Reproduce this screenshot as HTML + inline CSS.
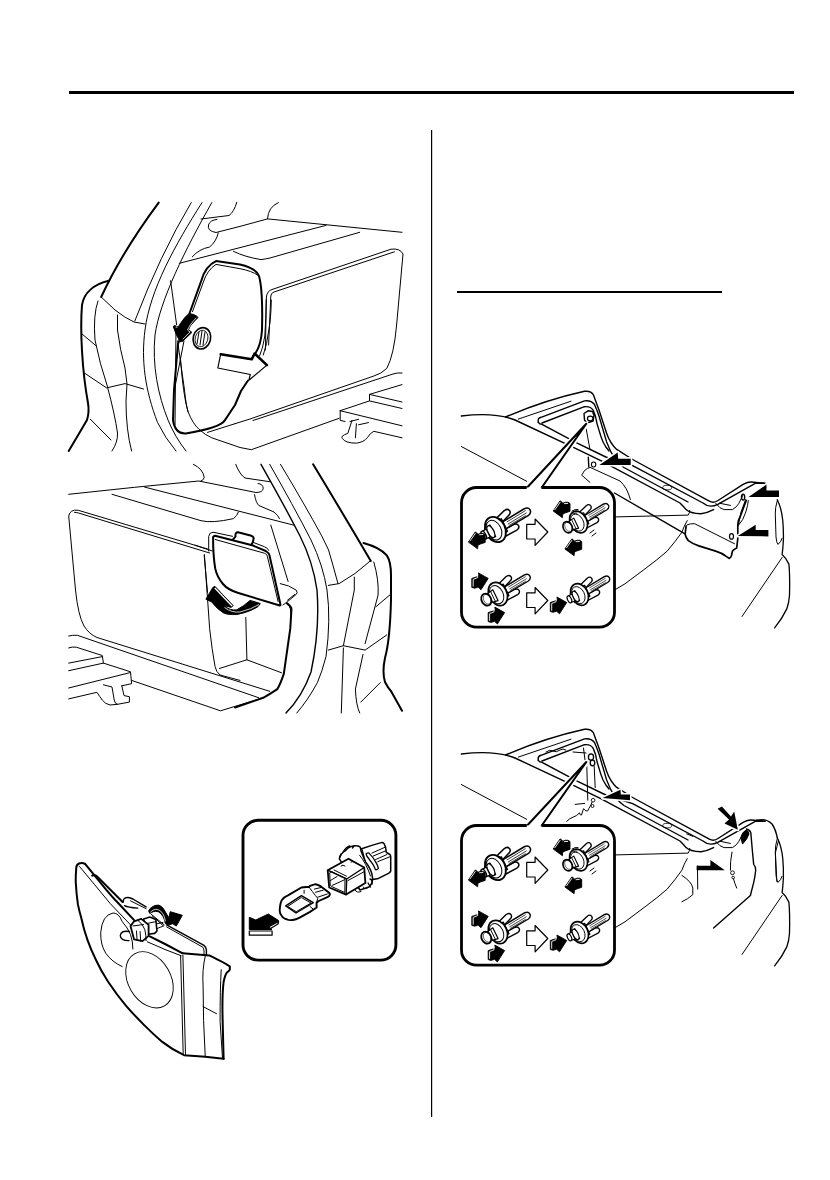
<!DOCTYPE html>
<html><head><meta charset="utf-8">
<style>
html,body{margin:0;padding:0;background:#fff;}
body{width:830px;height:1180px;overflow:hidden;position:relative;font-family:"Liberation Sans",sans-serif;}
svg{position:absolute;left:0;top:0;}
.t{fill:none;stroke:#000;stroke-width:1;stroke-linejoin:round;stroke-linecap:round;}
.m{fill:none;stroke:#000;stroke-width:1.4;stroke-linejoin:round;stroke-linecap:round;}
.k{fill:none;stroke:#000;stroke-width:2;stroke-linejoin:round;stroke-linecap:round;}
.f{fill:#000;stroke:#000;stroke-width:1;stroke-linejoin:round;}
.fh{fill:#000;stroke:#fff;stroke-width:3.2;stroke-linejoin:round;paint-order:stroke;}
.w{fill:#fff;stroke:#000;stroke-width:1.2;stroke-linejoin:round;}
</style></head>
<body>
<svg width="830" height="1180" viewBox="0 0 830 1180">
<!-- page rules -->
<rect x="69" y="91" width="725" height="3" fill="#000"/>
<rect x="431" y="130" width="1.2" height="987" fill="#000"/>
<rect x="457" y="291" width="265" height="2" fill="#000"/>

<!-- ===== Illustration 1 ===== -->
<g id="il1">
<!-- pillar -->
<path class="k" d="M158.7,202.6 Q122,252 101.2,297"/>
<path class="t" d="M101.2,297 L115,310 Q125,318 134,322 L145,324"/>
<path class="t" d="M191.2,202.6 Q160,255 134.8,321"/>
<path class="t" d="M202,202.6 C175,245 150,290 145,330 C141,360 145,390 157.6,422.6 Q165,438 176,451"/>
<path class="t" d="M211.8,202.6 C185,250 160,300 155,335 C152,365 158,395 168,420 Q175,437 186,451"/>
<!-- fender -->
<path class="k" d="M108.8,280.7 C95,284 84,292 82,305 C80,330 82,370 88,403 Q89.5,412 87,420 Q80,432 68.7,451"/>
<path class="t" d="M81.7,333.7 L95.8,345.6"/>
<path class="t" d="M98,301 Q93,315 95,340 Q100,365 107,385 Q115,415 117.5,433 Q118,442 112,451"/>
<path class="t" d="M117.5,315 L117.5,330 Q120,350 125,368 L127,384 L126,401 Q126,430 131.6,451"/>
<path class="t" d="M83.9,372.7 L106.6,387.9 L125,383.6 L143.5,389"/>
<path class="t" d="M90.4,419.3 L111,440"/>
<!-- cargo shelf -->
<path class="t" d="M179.3,263.3 L326,225.4"/>
<path class="t" d="M201,219 L229,215.5 Q234,212 236.8,202.3"/>
<path class="t" d="M402,232.3 L267.5,218.9 L240,226.4 L216,232.5 Q207,231 208.5,225 Q210,220 217,219.4"/>
<path class="t" d="M218.3,233 Q216,242 209.6,247 Q199,249 192.3,256.8"/>
<path class="t" d="M278.4,202.6 Q268,207 267.5,218.9"/>
<path class="t" d="M233.5,251.4 Q245,257 261,259.6 Q266,259 270,258 L359.7,232.3"/>
<!-- cover -->
<path class="k" d="M178,344 L190,312 L201,281.7 Q205,266 216,261.1 L240,264.4 Q256,268 259,276 Q263,290 262,330 Q261,345 255.6,353"/>
<path class="k" d="M248,380.5 L241,391 L235,405 L224.8,420.4 Q220,428 185.8,433.4 Q175,434 173,420 L174,390 L178,344"/>
<path class="t" d="M192.5,311.6 L203,283 Q207,270 216,264.4 L240,268.7 Q252,271 257.8,275.2"/>
<path class="t" d="M266.2,300 Q266,320 264.8,336 Q263,348 259.7,355.7"/>
<path class="t" d="M271.3,300 Q271,318 269,329 Q267,345 263.3,355"/>
<path class="t" d="M170.6,280.7 L176.6,324.6"/>
<path class="t" d="M176,330 L175,425"/>
<path class="t" d="M177.6,341 L184.5,390 Q186,405 188,411.7"/>
<path class="t" d="M184,341 L174.4,390"/>
<!-- panel -->
<path class="t" d="M265.4,350 L266.4,297 Q267,291 272,289.5 L391,249.2 Q400,248 403,254 L396.6,325 Q394,355 386.8,368.4 Q381,374 373.8,376 L250,419 L235,423.7"/>
<path class="t" d="M268.6,345 L270.8,296 Q271,293 274,292 L394.4,251.8"/>
<path class="t" d="M207.5,432.4 L235,423.7"/>
<path class="t" d="M402,373 Q397,372.5 393,374 L253,420.5"/>
<path class="t" d="M180.4,357.5 Q183,395 188,411.7 Q193,424 198.8,429 Q205,435 211.8,437.8 L240,447.5 L251.3,449.7 L339.1,418.3"/>
<!-- tie down -->
<path class="t" d="M340.2,410.7 L369.5,400.9 L369.5,394.4 L402,384.6"/>
<path class="t" d="M340.2,410.7 L402,425.8"/>
<path class="t" d="M369.5,394.4 L402,402"/>
<path class="t" d="M369.5,400.9 L402,408.5"/>
<path class="t" d="M340.2,410.7 L340.2,420.4 L345,421.5"/>
<path class="t" d="M352,420.4 L347.8,433.4 Q340,436 342.4,438.5 Q345,443 356.4,443.2 Q364,442 367.3,437.8 Q370,433 373.8,431.3 L402,437.8"/>
<path class="t" d="M356.4,423.7 L355.4,437.8"/>
<path class="t" d="M350,421.5 L358.6,419.3 M358.6,424.8 L368.4,422.6"/>
<!-- bolt -->
<ellipse cx="201.9" cy="338.3" rx="8.7" ry="10.8" transform="rotate(15 201.9 338.3)" fill="#fff" stroke="#000" stroke-width="1.6"/>
<ellipse cx="201.5" cy="338.5" rx="6.3" ry="8.4" transform="rotate(15 201.5 338.5)" fill="none" stroke="#000" stroke-width="0.8"/>
<path class="t" d="M199,332 L197,344 M202,331 L200,345 M205,332 L203,345"/>
<!-- black arrow -->
<path class="f" d="M189.4,313.6 Q194,314 197,316.3 Q198.5,317.5 197.6,318.2 Q195,320 193.6,322.2 Q191,324.5 189.8,326.9 L188.6,329.8 L191.9,332.4 L182.7,341.2 Q181,342 180.1,341.6 L176.3,334.5 L173.4,326.9 Q173.8,325.4 174.6,325.6 L178.4,326.9 Q179.5,324.5 181,322.7 Q183,320 184.8,317.6 Q187,315 189.4,313.6 Z"/>
<path d="M196.4,317.7 Q193,321 190.6,324.5 Q188.7,327.5 187.5,330 L190,332 L182.8,339.3" stroke="#fff" stroke-width="0.8" fill="none" stroke-linejoin="miter"/>
<ellipse cx="176.6" cy="327" rx="1.1" ry="0.55" fill="#fff"/>
<!-- white arrow -->
<path class="w" d="M220.7,354.2 L251.7,359.3 L254.6,353.5 L266.9,365.1 L248.9,380.2 L250.3,374.5 L217.8,368 Z"/>
<path class="k" style="stroke-width:2.6" d="M220.7,354.2 L251.7,359.3 L254.6,353.5 L266.9,365.1"/>
</g>

<!-- ===== Illustration 2 ===== -->
<g id="il2">
<path class="t" d="M68.7,494.3 Q135,487 198.8,481 L256,492.5 Q263,492.5 263.2,488.2 Q263,484 258,483.5"/>
<path class="t" d="M193.4,464.3 Q203,469 204.2,477.3 Q204,480 201,481"/>
<path class="t" d="M235.7,464.3 Q240,475 245,478 L269.7,481.7"/>
<path class="t" d="M144.6,487.1 L293.6,525.1"/>
<path class="t" d="M112,494.3 L201,520.7 Q212,523.5 233.5,518.6 Q237,516 238.5,512"/>
<path class="t" d="M254.5,494.7 Q256,503 258.9,505.5 L274,512 Q278,515 279.5,518.6"/>
<path class="t" d="M270.8,525.1 L288.1,581.4"/>
<!-- panel -->
<path class="t" d="M207.5,549 L78.4,510.3 Q70,509 68.7,516 L75.5,590 Q78,615 84,626 Q89,634 97,637.5 L269.7,691.3"/>
<path class="t" d="M74.5,512.3 Q76,512.3 78.5,513 L209.6,553"/>
<path class="t" d="M204.2,555.4 L207.5,592.3"/>
<path class="t" d="M68.7,636 Q72,635 77.4,635.3 L258.9,697.8"/>
<!-- tie down -->
<path class="t" d="M68.7,647.9 Q72,646.5 76.3,647.2 L102.3,655.5 L103.4,663.1"/>
<path class="t" d="M68.7,663.1 L102.3,656.6"/>
<path class="t" d="M68.7,670.7 L103.4,663.1 L130.5,671.8 L131.6,683.7 L121.8,685.8"/>
<path class="t" d="M68.7,688 L130.5,672.5"/>
<path class="t" d="M103.4,684.8 L112,687 L114.2,700 Q115,704 117.5,704.3 L129.4,702.1 L129.4,696.7 L124,695.6 L121.8,685.8"/>
<path class="t" d="M68.7,698.9 L96.9,692.3 Q100,697 102.3,700 Q105,704 110,705 L117.5,704.3"/>
<path class="t" d="M131.6,680.4 L220.5,710.8 L263.2,697.8"/>
<!-- recess box -->
<path class="t" d="M204.4,554.6 L208.7,615 L209.6,628.4 Q212,650 215,666.3 Q216,672 220,675 L240,680.4"/>
<path class="t" d="M219.4,668.5 L246.9,659.8 L281.6,672.8"/>
<path class="t" d="M245.8,617.5 L246.9,659.8"/>
<path class="k" d="M287,603.4 Q292,607 291.4,610 L290.3,628.4 L283.8,673.9 Q280,685 277.3,689.1 Q270,694 263.2,697.8 L235,707.5"/>
<!-- pillar -->
<path class="k" d="M313.1,464.3 Q342,512 370.8,561"/>
<path class="t" d="M370.5,560.8 Q355,575 339.1,583.6 L328.3,585.4"/>
<path class="k" d="M363.5,543 Q380,547.5 386.8,555.4 Q391,562 391,575 L391,600 Q390,640 385,658 Q382,672 385,682 Q388,688 391.1,691.3 L402,710.8"/>
<path class="t" d="M373.8,562 Q379,580 378.1,595 L365.1,643.6"/>
<path class="t" d="M363,654.4 L355.4,689.1 Q356,705 359.7,713"/>
<path class="t" d="M354.3,577.1 L354.3,590 L343.4,645.7"/>
<path class="t" d="M343.4,647.9 L341.3,713"/>
<path class="t" d="M328.3,650.1 L343.4,645.7 L365.1,650.1 L386.8,634.9"/>
<path class="t" d="M376,606.7 L390,594.8"/>
<path class="t" d="M380.3,682.6 L360.8,702.1"/>
<path class="m" d="M261,464.3 Q283,503 300,536 Q313,562 317,590 Q320,630 311,672 Q302,697 286,713"/>
<path class="t" d="M269.7,464.3 Q293,505 311,540 Q323,565 327,590 Q331,620 326,656.6 Q322,672 317.4,682.6 Q308,700 296.8,713"/>
<path class="t" d="M280.5,464.3 Q305,505 321.7,535.9 Q330,550 332.6,564.1 L338,583.6"/>
<!-- lid -->
<path class="t" d="M195,545.2 L212.3,551"/>
<path class="t" d="M208.7,551 L208.7,536.6 Q209,532.5 213,532.2 L232.5,536.3"/>
<path class="t" d="M253,542.3 L264.4,546.7 Q268,548 268.7,550.3"/>
<path class="k" d="M232.6,539.8 L235.5,536.6 L235.5,534.4 Q236,532 238,532.2 L251.4,535.8 Q254,537 253.6,538.7 L252.8,542.3 L251.2,545"/>
<path class="k" d="M213.1,537 Q214,535.5 216,536 L252.1,545.2 L265.8,551 Q269,553 269.5,555.4 L280.3,603.8 Q281,606 278.9,605.2 L238.4,593 Q228,590 223,584 Q217,577 215.2,568.4 Q213,555 213.1,537 Z"/>
<path class="t" d="M215.2,539.5 L264.4,553.2 Q267,554 267.3,556.1 L278.1,601.6"/>
<path class="t" d="M280.3,583.6 Q289,585 296.2,590.1 Q298,593 296.2,594.4 L287.5,601.6 L283,605"/>
<path class="t" d="M294.8,594.4 L287.5,600.2"/>
<path class="t" d="M287.5,603 Q290,607 290.4,608.9 L291.1,615"/>
<!-- black arrow -->
<path class="f" d="M205.9,599.2 L212.9,587.4 L214.9,586.3 L233,605.5 L231.3,607.4 L224,605.5 Q230,611 236.8,609.8 Q244,606 250.1,600.4 L260.3,603.5 L258,606.6 Q250,612 236.8,614.5 Q228,615 223.5,612.9 Q217,609 211.7,601.9 Z"/>
<path d="M214.8,588 L232,606" stroke="#fff" stroke-width="1.3" fill="none"/>
<path d="M224.5,607.5 Q232,613 240,612 Q252,609 259,604.5" stroke="#fff" stroke-width="0.8" fill="none"/>
</g>

<!-- ===== Illustration 3 : lamp ===== -->
<g id="il3">
<path class="k" d="M85.1,863.9 Q82,862.5 79,863.5 Q76,865 76.2,869 Q75.5,878 75.8,883.3 Q76.5,895 77.9,904.4 Q79.5,912 81.3,918 Q86,940 96,960 Q101,971 108.1,981.7 Q117,995 126.1,1005.8 Q135,1016 144.2,1025.1 Q153,1034 162.3,1041.9 Q172,1049.5 184,1055.2 L205.2,1056.8 L223.6,1058.8"/>
<path class="k" d="M223.6,1058.8 L222.6,1018.9 Q222,995 223.6,982 Q225,975 226.7,972.8 Q229,971 229.8,969.7 L229.8,966.6 Q227,964 209.3,955.4 L182.7,953.3"/>
<path class="k" d="M85.1,863.9 Q95,876 105.7,889.2 Q112,897 120,905 L134.1,920.1"/>
<path class="k" d="M149.8,936.4 L166,944.5 L182.7,953.3"/>
<path class="t" d="M79.5,866.5 Q95,885 110,903.3 L131.7,926.1"/>
<path class="t" d="M147.3,941.8 L165,949.5 L181.1,955.7"/>
<path class="k" d="M92.2,875.6 Q94.5,874.3 97.3,876.6 L122.6,902"/>
<path class="t" d="M180.6,955.4 L183.2,1054.5"/>
<path class="t" d="M182.9,955.4 L185.5,1054.8"/>
<path class="t" d="M205.2,956.4 Q202,970 203.1,986.1 Q203,1020 205.2,1056"/>
<path class="t" d="M221.2,969.7 Q220,990 220.1,1021.7 L222.5,1058"/>
<path class="t" d="M203.1,1006.6 L216.5,1013.7"/>
<path class="m" d="M166.6,924.9 L204,945.4 Q206,947 206.4,950 L206.4,955"/>
<path class="t" d="M166.6,926.9 L202.8,947.2 Q204,949 204,951 L204,955"/>
<!-- bracket -->
<path class="m" d="M123.3,902 Q123.2,899 124.5,898.4 Q126,897.4 128,897.5 Q130.5,897.8 132.9,899 L146.1,906.9"/>
<path class="t" d="M130.5,900.8 L146.1,908.7"/>
<path class="m" d="M124.5,905.7 Q128,907.6 137.7,908.1"/>
<ellipse cx="149.5" cy="979.8" rx="21.3" ry="30" transform="rotate(-30 149.5 979.8)" fill="none" stroke="#000" stroke-width="0.9"/>
<path class="t" d="M122.2,966.6 Q112,962 105.8,953.3 Q100.5,945 100.7,932.8 Q102,915 113,913 Q119,913 122,921.3 Q128,928 130.5,934.6 Q133,942 132.9,949"/>
<!-- socket -->
<path class="m" d="M129.3,931.5 Q121,930 120.3,935.5 Q120.5,940.8 129,940.6"/>
<path class="t" d="M151,914.1 L164.2,924.9 M152.2,915.9 L163.6,926.1"/>
<path class="t" d="M157,923.7 L163,922.5 M157,928.6 L163,926.1"/>
<path class="w" style="stroke-width:1.6" d="M143.7,918.9 L149.8,917.1 L155.8,919.5 L157,931 L154.6,933.4 L149.8,934 L146,934 Z"/>
<path class="t" d="M146.1,923.7 L155.8,921.6"/>
<path class="w" style="stroke-width:1.8" d="M134.1,921.3 L141.3,918.9 L148.6,924.9 L148.6,935.8 L142.5,941.2 L134.1,939.4 L130.5,926.1 Z"/>
<path class="t" d="M137.7,920.1 Q143,924 144.9,929.8 Q146,935 146.1,940.6"/>
<path class="t" d="M133,926 L143.5,924.5"/>
<path class="t" d="M136.5,931 L137.1,940.6 M140.1,931.6 L140.7,941.2"/>
<path class="f" d="M148.6,911.1 Q150,908 152.2,906.9 Q155,905 158.2,905.1 Q161,905.8 163,908.1 Q165,911 166.6,914.1 L169,917.7 L170.2,911.7 L182.3,915.3 L176.3,926.1 L172.7,923.7 L169,924.9 L165.4,923.7 Q164.5,919 163,916.5 Q161,913 158.2,911.7 Q155.5,911 153.4,911.7 Q151,912.5 149.8,913.5 Z"/>
<path d="M150.3,912.2 Q153,909.5 155.8,909.3 Q158.5,909.3 160.6,911.1 Q163,913.5 164.2,916.5 Q165,919 165.4,921.3" stroke="#fff" stroke-width="0.8" fill="none"/>
</g>

<!-- ===== Inset (bulb) ===== -->
<g id="inset1">
<rect x="243" y="820.3" width="152.9" height="139.8" rx="15" ry="15" fill="none" stroke="#000" stroke-width="2.9"/>
<!-- arrow -->
<path class="f" d="M249.3,917.3 L255.8,920 L268.3,914 L278.6,920.5 L268.5,926.5 L272,929.5 L249.3,929.5 Z"/>
<path class="w" d="M249.3,931 L272.1,931 L272.1,935.2 L249.3,935.2 Z"/>
<path class="w" d="M268.5,927 L278.6,921.5 L278,924 L270.5,928.5 Z"/>
<!-- bulb -->
<path class="w" style="stroke-width:1.9" d="M279.7,910.8 Q280,903 281.9,900 Q284,897 288.4,895.1 L301.4,887.5 Q304,886.8 309,887 L310,885.8 L315.5,884.2 Q318,884.5 320.9,886.4 L328.5,892.3 Q330.5,894 329.6,895.1 Q329,896.5 327.4,897.2 L318.7,901 L316.6,902.7 L316.6,907.5 Q313,910 310,911.9 L299.2,917.8 Q296,919.5 292.7,920 Q289,920.5 287.3,919.5 Q283,918.5 281.9,916.2 Q279.7,914 279.7,910.8 Z"/>
<path class="t" d="M309,887 L312.2,891.3 L315.5,895.6 L317.7,898.3 L316.6,902.7"/>
<path class="t" d="M314.4,889.1 L320.9,887.5 M315.5,892.3 L323.1,890.2 M317.7,897.2 L327.4,894"/>
<path class="t" d="M304.1,890.2 L304.1,893.4"/>
<path class="m" d="M285.7,905.9 L301.4,895.6 L313.3,902.7 L296,913 Z"/>
<path class="t" d="M288,906.2 L301.3,897.5 L311,903 L296.5,911.5 Z"/>
<path class="t" d="M310,906.5 L313,909"/>
<!-- connector -->
<path class="w" style="stroke-width:1.5" d="M361.7,848.7 L372.6,845.1 L381.3,842.6 Q383,842.5 384,843.5 L385.6,847.3 L386.3,852.3 L389.9,854.5 Q390.7,855 390.7,857 L390.7,871.1 Q390,872.5 388.5,873.3 L378.4,878.4 L370,880 Z"/>
<path class="t" d="M371.9,853.1 L384.9,847.3 M373.3,856 L385.6,850.9 M375.5,859.6 L387,854.5 M377.7,861.7 L390,856.7"/>
<path class="w" style="stroke-width:1.5" d="M339.3,858.9 Q341,853 345.1,850.9 Q348,847.5 350.9,846.6 Q354,845.5 356.7,845.8 Q359,846 360.3,847.3 L361,850.9 Q363,856 365.4,861.7 Q368,865 369.7,868.3 Q371.5,872 371.9,874 L372.6,878.4 Q372.5,882 371.1,884.2 L369,887 L360,890 Z"/>
<path class="t" d="M359.6,855.2 Q366,863 370.5,876"/>
<path class="m" d="M343.5,851.5 Q346,847 350,846 M352.5,848 L354,845.8 M339.5,857 L341,854 M370,879 Q373,880 372,884 M368,883 L370.5,887"/>
<path class="w" style="stroke-width:1.3" d="M366.1,853.8 Q368,852.5 369,853.1 Q373,857 375.5,861.7 Q378,866 378.4,868.3 Q377,870 375.5,869.7 Q374,866 372.6,863.9 Q369,859 366.8,856 Z"/>
<path class="w" style="stroke-width:1.8" d="M327.7,870.2 L348.5,858.7 L364.2,867.5 L365.4,883.1 L346.1,894.6 L329.2,887.5 Z"/>
<path class="m" d="M327.7,870.2 L346.7,879 L364.2,867.5 M346.7,879 L346.1,894.6"/>
<path class="t" d="M330,872.5 Q331,871.5 332.5,872 L345,878.3 L344.8,892.5 L331.5,886.5 Q330.3,886 330.2,884.5 Z"/>
<path class="t" d="M330.5,880.5 L337,876.5 M332,885.5 L344.5,879.8"/>
<path class="t" d="M334,870 L346.5,876.2 M348,880.5 L364.5,871.5"/>
<path class="t" d="M341,866 Q343,864 345,866 M351,862 Q353,860.5 355,862.5"/>
<path class="t" d="M355,890 Q357,893.5 361,891.5 M363,887 Q364.5,890 367.5,888"/>
</g>

<defs>
<!-- clip retainer, retracted pin -->
<g id="clipLegs">
  <path class="w" style="stroke-width:1.5" d="M4,-9 L16,-13 Q20,-14 21,-11 Q21.5,-8 18.5,-7 L9,-3.5 Z"/>
  <path class="w" style="stroke-width:1.5" d="M6,4 L19,3.5 Q22.5,4 22.5,7 Q22,9.8 19,10 L5,10.5 Z"/>
  <path class="w" style="stroke-width:1.5" d="M8,-3.5 L35,-6 Q39.5,-6 39.8,-2.5 Q39.8,1 36,1.8 L9,4 Z"/>
  <path class="t" style="stroke-width:0.7" d="M14,-1.8 L35,-3.8 M14,0.6 L35,-1.3 M14,2.4 L33,0.8"/>
  <path class="w" style="stroke-width:1.4" d="M1,-7 L10,-7 L10,7 L1,7 Z"/>
  <ellipse cx="0" cy="0" rx="9.8" ry="13.2" fill="#fff" stroke="#000" stroke-width="1.9"/>
  <ellipse cx="-1.6" cy="0" rx="7.2" ry="10.4" fill="none" stroke="#000" stroke-width="1"/>
</g>
<g id="clipR">
  <use href="#clipLegs"/>
  <path class="w" style="stroke-width:1.3" d="M-3,-6.5 L-9,-5.5 L-9,5.5 L-3,6.5 Z"/>
  <ellipse cx="-5" cy="0" rx="3" ry="6.5" fill="#fff" stroke="#000" stroke-width="1.3"/>
  <path class="w" style="stroke-width:1.3" d="M-8,-4.5 L-13,-4 L-13,4 L-8,4.5 Z"/>
  <ellipse cx="-13" cy="0" rx="2.2" ry="4.3" fill="#fff" stroke="#000" stroke-width="1.4"/>
</g>
<!-- clip retainer, pushed pin -->
<g id="clipP">
  <use href="#clipLegs"/>
  <path class="w" style="stroke-width:1.3" d="M-3,-6.5 L-12,-5 L-12,5 L-3,6.5 Z"/>
  <path class="t" style="stroke-width:0.9" d="M-6,-5.8 L-6,5.8 M-9,-5.3 L-9,5.3"/>
  <ellipse cx="-14" cy="0" rx="5.2" ry="6.8" fill="#fff" stroke="#000" stroke-width="1.9"/>
  <ellipse cx="-13" cy="0" rx="3.8" ry="5.6" fill="none" stroke="#000" stroke-width="0.6"/>
</g>
<!-- small black arrows -->
<g id="barrL">
  <path fill="#000" stroke="#000" stroke-width="0.9" stroke-linejoin="round" d="M0,0 L6.9,-10.1 L8.4,-9.2 L9.5,-7.8 L12.4,-8.8 L14.7,-8.7 L16.8,-7.5 L16.8,0.3 L11.8,2 L9.5,3.2 L9.2,6.7 Z"/>
  <path d="M1.4,-0.9 L7.1,-8.9 M10.8,-7.3 L14.8,-7.6" stroke="#fff" stroke-width="0.9" fill="none"/>
</g>
<g id="barrR">
  <path fill="#000" stroke="#000" stroke-width="0.9" stroke-linejoin="round" d="M0,0 L-9.8,-5.5 L-9.4,-3.5 L-10.1,-2 L-16.4,0 L-16.4,9 L-13.5,9.8 L-10.1,8.7 L-7.2,11.3 Z"/>
  <path d="M-15,8.2 L-15,1 L-10.6,-0.8 L-10.6,-3.6" stroke="#fff" stroke-width="0.9" fill="none"/>
</g>
<g id="harr">
  <path class="w" style="stroke-width:1.2" d="M526.7,524.3 L535.1,524.3 L535.1,519 L547.8,532 L535.1,545.4 L535.1,539 L526.7,539 Z"/>
</g>
<!-- clip inset contents (box 2) -->
<g id="clipbox">
  <rect x="461.5" y="487.5" width="153" height="139.7" rx="15" ry="15" fill="#fff"/>
  <path fill="none" stroke="#000" stroke-width="2.8" d="M526.7,487.5 L476.5,487.5 A15,15 0 0 0 461.5,502.5 L461.5,612.2 A15,15 0 0 0 476.5,627.2 L599.5,627.2 A15,15 0 0 0 614.5,612.2 L614.5,502.5 A15,15 0 0 0 599.5,487.5 L541.4,487.5"/>
  <use href="#clipR" transform="translate(495.4,529.5) rotate(-26)"/>
  <use href="#clipP" transform="translate(578.5,522) rotate(-26) scale(0.86)"/>
  <use href="#clipP" transform="translate(497.9,594) rotate(-26) scale(0.92)"/>
  <use href="#clipR" transform="translate(579.5,594.5) rotate(-26) scale(0.86)"/>
  <use href="#harr"/>
  <use href="#harr" transform="translate(0,68.5)"/>
  <use href="#barrL" transform="translate(468.4,542.1)"/>
  <use href="#barrL" transform="translate(553.2,511)"/>
  <use href="#barrL" transform="translate(564.9,549)"/>
  <use href="#barrR" transform="translate(488.2,578.4)"/>
  <use href="#barrR" transform="translate(504.6,612.6)"/>
  <use href="#barrR" transform="translate(566.7,602.5)"/>
  <path class="t" d="M572,511 Q575,509 578,509.5 M573,514 Q575,512.5 577,513 M590,533 L594,530 M592,536 L596,533"/>
</g>
<!-- shared car body for illus 4/5 -->
<g id="carbody">
  <path class="m" d="M461.3,416 Q495,412 515,420 L573.9,447.7 L600.8,460.6 L680,503 Q684,507 686.1,509.6 Q690,513.5 700.9,513.8 Q707,513 713.6,509.6"/>
  <path class="m" d="M505.6,417 Q545,400 584.5,391.3 Q591,390.5 593.5,395 Q596,402 599,410 L606.6,433.2 Q610,443 616.7,449.4 L632.6,459.5 L709.3,501.1 Q713.6,503.5 718,500.5 L743.1,484.3 Q748,481.8 751.5,482 L764.2,483.2"/>
  <path class="t" d="M518.3,419.1 L571,401.2"/>
  <path class="m" d="M538.3,422.3 Q537.5,418 541,417.3 L584.5,400.9 Q591,400 594.5,404.5 Q597,410 599,416 L606.6,441.9 Q610,452 616,460 Q620,464.5 623.9,467.5 L688,502"/>
  <path class="m" d="M542,423 L584.5,406.7 Q590.5,406 593.1,410.1 Q596,416 597,423.6 L600.8,436.1 Q603,443 605.7,446.7 L609,451"/>
  <path class="m" d="M538.3,422.3 Q539.5,424.3 542,424.3 L576.7,442.8 L605.8,457 L632.6,465.7 L703,503 Q709.3,508.5 717.8,504.3 L755.7,483.2 L765.2,483.2"/>
  
  <path class="t" d="M720,503.3 L730.4,505.4"/>
  <path class="t" d="M715.7,503.3 Q720,509 724.1,509.6 L732.5,509.6 Q737,507 738.9,503.3 L743.1,494.8"/>
  <path class="t" d="M612,517 L688.2,515.1 Q690,512 689.8,510.4"/>
  <path class="t" d="M687.2,520.6 Q684,526 681.9,532.2 Q675,542 667.2,551.1 Q657,560 646.1,568 L625,583.8 L614.5,590"/>
  <path class="t" d="M461.3,446.5 L526.7,481.3"/>
  <ellipse cx="667.2" cy="487.6" rx="4.5" ry="2.3" fill="none" stroke="#000" stroke-width="0.8"/>
  <path class="m" style="stroke-width:1.3" d="M777.3,499.7 Q781.5,508 782.8,520.7 Q783.6,530 783.4,539.7 Q783,548 782.1,554.6 Q786,558 788.9,564.1 Q790,575 789.5,595.3 Q789,603 786.8,608.9 Q782,619 774.6,627.9"/>
  <path class="t" d="M777.3,500.6 Q775,508 775.3,513.9 L776,537 Q776.5,543 778,544.4 Q781,542 782.1,538.3"/>
  <path class="t" d="M782.1,557.5 L742,616.5"/>
</g>
</defs>

<!-- ===== Illustration 4 ===== -->
<g id="il4">
<use href="#carbody"/>
<path class="m" d="M614.5,493 L685,533.9"/>
<!-- bumper bracket -->
<path class="m" style="stroke-width:1.7" d="M686.1,525.8 L685.1,534.3 Q686,538 688.3,540.6 Q693,544 698.8,545.9 L715.7,551.1 Q722,553 726.2,556.4 L729.4,558.5 Q731,557 731.5,555.4 L732.5,551.1 Q734,549 736.7,548 L737.8,538.5 L737.8,525.8 Q738,520 739.9,517.4 L746.2,500.5"/>
<path class="t" d="M687.2,524.8 Q690,523.5 694.6,523.7 L734.6,543.8"/>
<ellipse cx="731.5" cy="536.4" rx="2" ry="2.8" fill="none" stroke="#000" stroke-width="1.2"/>
<ellipse cx="743.1" cy="497.1" rx="1.6" ry="3" fill="none" stroke="#000" stroke-width="1.4"/>
<path class="t" d="M745.6,499.5 Q740,512 738.3,525.5 Q743.5,520 745.8,512 Q748,505 748.3,500.5"/>
<path class="fh" d="M748.5,497 L766.5,484.6 L766.5,490.5 L779,490.5 L779,497 Z"/>
<path class="fh" d="M737.8,536 L755.7,524.8 L755.7,530 L768.4,530 L768.4,536.4 Z"/>
<!-- clip area near garnish -->
<path class="m" d="M584,413.5 L588,410.8 L592.5,411.5 L594,415.5 L593,421 L587,423 L584.5,420 Z"/>
<ellipse cx="590.2" cy="418.5" rx="2.8" ry="2.3" fill="#fff" stroke="#000" stroke-width="1.2"/>
<path class="t" d="M585.9,427.4 L589.8,448.6"/>
<path class="m" d="M588.3,457.3 L588.8,466.9"/>
<ellipse cx="593.6" cy="464.5" rx="2.2" ry="2.5" fill="#fff" stroke="#000" stroke-width="1.1"/>
<path class="t" d="M582.5,474.2 Q584,469 590.2,467.4 L620,481 Q627,487 630.4,499.5"/>
<path class="t" d="M581.5,475 L590,482.4"/>
<path class="fh" d="M599.4,465 L617.7,452.5 L618.2,458.7 L630.7,458.7 L630.7,465 Z"/>
<!-- leader -->
<path fill="none" stroke="#fff" stroke-width="5.5" stroke-linejoin="round" d="M527,487 L586.3,424.5 L541.4,487"/>
<path class="k" d="M526.7,488 L586.3,423.8 L541.4,488"/>
<use href="#clipbox"/>
</g>

<!-- ===== Illustration 5 ===== -->
<g id="il5">
<use href="#carbody" transform="translate(0,338)"/>
<!-- upper clip -->
<ellipse cx="591" cy="757" rx="2.6" ry="3.2" fill="#fff" stroke="#000" stroke-width="1.3"/>
<ellipse cx="592.5" cy="763" rx="2.3" ry="2.8" fill="#fff" stroke="#000" stroke-width="1.3"/>
<path class="t" d="M586.8,766.5 L587.8,800.2"/>
<path class="t" d="M594.2,766.5 L595.2,787.6"/>
<path class="t" d="M573,752 L586,753 M583.5,748 L585,760"/>
<path class="t" d="M546,752 Q550,749 553,751 Q556,753 560,750 Q563,748 566,750"/>
<path class="fh" d="M602.6,798.1 L620.5,789.7 L620.8,794.5 L630,794.5 L630,800.2 Z"/>
<path class="t" d="M566.7,821.3 Q570,818 573.1,817.1 Q577,816 579.4,812.9 Q580.5,816 581.5,815 Q583,810 583.6,808.7 Q586,812 587.8,810.8 Q589,808 590,806.6 Q591.5,804 592,802.3"/>
<circle cx="593.1" cy="800.2" r="1.8" fill="none" stroke="#000" stroke-width="0.9"/>
<circle cx="592.5" cy="806" r="1.5" fill="none" stroke="#000" stroke-width="0.9"/>
<path class="t" d="M575.2,804.4 L584.7,803.4"/>
<!-- right end -->
<path class="fh" d="M717.6,808.7 L721.9,806.6 L731,816.5 L734.2,811.6 L737.8,829.7 L724.5,823.5 L729,819.5 Z"/>
<path class="m" d="M756.6,820.3 Q766,818 772,824 Q775.5,829 777.3,837.7"/>
<path class="t" d="M778.3,841.3 L775.4,852.8 L776.9,881.7"/>
<path class="f" d="M741,838 Q742,832 746,830 Q749,831 749,834 Q747,840 742.5,844 Z"/>
<path class="t" d="M743.5,835 Q745,832 747,833"/>
<path class="m" d="M746.5,829 Q750,830 750.8,832.6 L752.3,850 L753.7,864.4 Q756,867 755.7,870.2 Q755,877 753.6,882.8 Q752,889 750.4,895.5 L713.6,928.1"/>
<path class="t" d="M732,852.1 Q730,862 730.4,870.2"/>
<circle cx="732.5" cy="872.8" r="1.9" fill="none" stroke="#000" stroke-width="0.9"/>
<circle cx="733.2" cy="877.6" r="1.3" fill="none" stroke="#000" stroke-width="0.9"/>
<path class="t" d="M733.5,879 Q735,884 736.7,888.1"/>
<path class="fh" d="M696.6,865.8 L710.4,865.8 L710.4,860 L724.8,870.2 L696.6,870.2 Z"/>
<path class="t" d="M697.5,866 L697.7,889.1"/>
<path class="t" d="M681.9,875.4 Q692,882 692.8,888 L692.8,894.7 Q688,899 681.9,901.8"/>
<path class="t" d="M686.7,833.9 L692.8,836.3"/>
<!-- leader -->
<path fill="none" stroke="#fff" stroke-width="5.5" stroke-linejoin="round" d="M527,825 L586.3,762.7 L541.4,825"/>
<path class="k" d="M526.7,826 L586.3,762 L541.4,826"/>
<use href="#clipbox" transform="translate(0,338)"/>
</g>

</svg>
</body></html>
